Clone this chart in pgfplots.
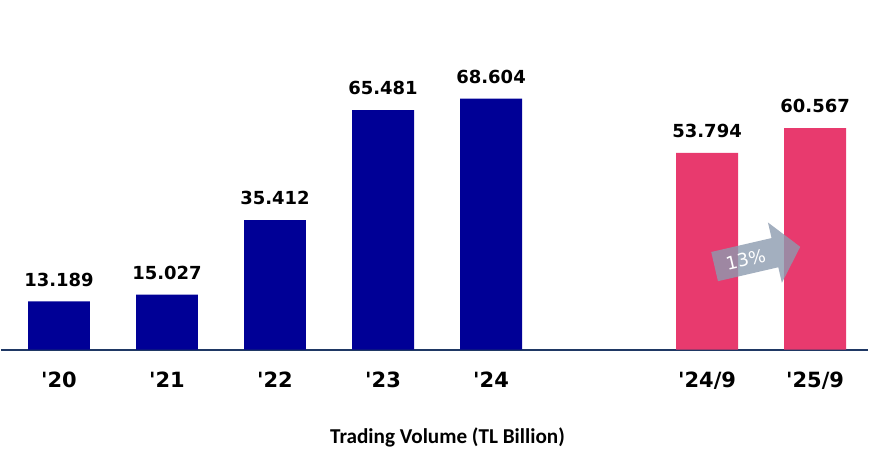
\documentclass[border=0pt]{standalone}
\usepackage{fontspec}
\setmainfont{DejaVu Sans}
\newfontfamily\calibri{Carlito}
\usepackage{pgfplots}
\pgfplotsset{compat=1.18}
\definecolor{barnavy}{RGB}{0,0,150}
\definecolor{barpink}{RGB}{232,58,110}
\definecolor{baseline}{RGB}{31,56,100}
\definecolor{arrowgray}{RGB}{140,155,175}

\begin{document}
\begin{tikzpicture}
\begin{axis}[
  scale only axis,
  width=434pt, height=175pt,
  xmin=-0.537, xmax=7.49,
  ymin=0, ymax=95.6,
  hide y axis,
  axis x line*=bottom,
  axis line style={draw=baseline, line width=1pt},
  xtick={0,1,2,3,4,6,7},
  xticklabels={\textquotesingle 20,\textquotesingle 21,\textquotesingle 22,\textquotesingle 23,\textquotesingle 24,\textquotesingle 24/9,\textquotesingle 25/9},
  major tick length=0pt,
  xticklabel style={font=\bfseries\fontsize{10.5}{12}\selectfont, anchor=base, yshift=-19pt},
  xlabel={\calibri\bfseries\fontsize{10.6}{12}\selectfont Trading Volume (TL Billion)},
  xlabel style={at={(axis description cs:0.5,0)}, anchor=base, yshift=-47pt, xshift=6.5pt},
  ybar, bar width=31pt,
  point meta=explicit symbolic,
  nodes near coords,
  every node near coord/.append style={font=\bfseries\fontsize{9}{11}\selectfont, text=black, anchor=south, yshift=4pt},
  clip=false,
]
  \addplot[fill=barnavy, draw=none, bar shift=0pt] coordinates {
    (0,13.189) [13.189]
    (1,15.027) [15.027]
    (2,35.412) [35.412]
    (3,65.481) [65.481]
    (4,68.604) [68.604]
  };
  \addplot[fill=barpink, draw=none, bar shift=0pt] coordinates {
    (6,53.794) [53.794]
    (7,60.567) [60.567]
  };

  % growth arrow
  \begin{scope}[shift={(axis cs:6.466,25.4)}, rotate=13]
    \fill[arrowgray, opacity=0.8] (-22pt,-7.5pt) -- (9pt,-7.5pt) -- (9pt,-15.5pt)
      -- (22pt,0pt) -- (9pt,15.5pt) -- (9pt,7.5pt) -- (-22pt,7.5pt) -- cycle;
    \node[text=white, transform shape, font=\fontsize{9}{11}\selectfont] at (-6pt,0pt) {13\%};
  \end{scope}
\end{axis}
\path[use as bounding box] ([yshift=-48.5pt]current axis.south west) rectangle ++(436.5pt,223.5pt);
\end{tikzpicture}
\end{document}
